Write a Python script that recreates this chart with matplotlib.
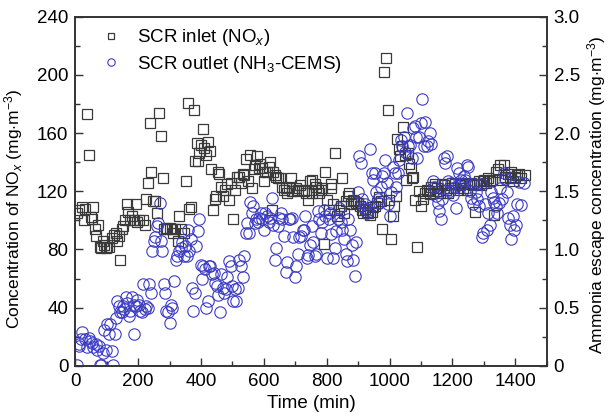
import matplotlib
matplotlib.use("Agg")
import matplotlib.pyplot as plt
from matplotlib.ticker import MultipleLocator, FuncFormatter

plt.rcParams['font.family'] = ['Liberation Sans', 'DejaVu Sans']
plt.rcParams['mathtext.fontset'] = 'custom'
plt.rcParams['mathtext.rm'] = 'Liberation Sans'
plt.rcParams['mathtext.it'] = 'Liberation Sans:italic'

# SCR inlet NOx (mg/m3) vs time (min)
inlet_t = [6, 12, 21, 27, 31, 37, 43, 49, 52, 55, 61, 65, 71, 77, 82, 87, 92, 97, 101, 108,
           116, 122, 128, 134, 138, 143, 147, 153, 159, 163, 168, 175, 180, 185, 192, 196, 204, 214, 220, 224,
           232, 238, 242, 248, 253, 259, 266, 271, 279, 281, 287, 293, 300, 306, 312, 318, 326, 331, 336, 346,
           351, 357, 363, 367, 377, 380, 388, 391, 395, 400, 406, 410, 416, 422, 427, 433, 438, 443, 449, 454,
           458, 465, 471, 477, 483, 489, 495, 501, 507, 513, 520, 526, 532, 538, 544, 550, 556, 562, 569, 571,
           578, 583, 588, 595, 600, 605, 611, 617, 621, 625, 630, 636, 639, 644, 652, 658, 664, 669, 675, 681,
           685, 691, 697, 703, 709, 715, 721, 727, 734, 740, 746, 752, 754, 762, 767, 771, 776, 782, 786, 792,
           796, 801, 807, 813, 815, 820, 828, 833, 838, 845, 850, 856, 862, 868, 872, 877, 883, 886, 893, 899,
           905, 911, 917, 923, 929, 933, 938, 943, 948, 954, 960, 966, 972, 976, 982, 990, 994, 999, 1005, 1011,
           1015, 1021, 1025, 1029, 1033, 1039, 1043, 1048, 1053, 1058, 1062, 1067, 1072, 1076, 1082, 1088, 1094, 1100, 1106, 1113,
           1119, 1125, 1128, 1133, 1139, 1146, 1150, 1155, 1162, 1168, 1174, 1180, 1186, 1192, 1198, 1204, 1210, 1217, 1223, 1229,
           1235, 1241, 1247, 1253, 1259, 1266, 1272, 1278, 1284, 1290, 1296, 1302, 1308, 1314, 1320, 1327, 1333, 1339, 1345, 1351,
           1357, 1363, 1369, 1376, 1382, 1388, 1394, 1400, 1406, 1412, 1418, 1430]
inlet_nox = [105, 107, 109, 100, 108, 173, 145, 102, 101, 109, 94, 89, 97, 82, 81, 86, 83, 81, 82, 82,
             88, 90, 91, 86, 89, 73, 94, 96, 100, 111, 106, 100, 103, 100, 111, 99, 100, 100, 97, 115,
             126, 167, 133, 113, 113, 105, 174, 158, 129, 94, 95, 94, 95, 94, 91, 94, 86, 103, 94, 91,
             127, 181, 108, 109, 176, 141, 153, 141, 146, 152, 163, 150, 145, 154, 148, 135, 107, 115, 117, 133,
             132, 123, 117, 121, 125, 114, 126, 101, 121, 130, 130, 126, 132, 131, 142, 127, 145, 122, 135, 138,
             144, 136, 139, 136, 127, 133, 133, 137, 140, 107, 133, 131, 130, 129, 129, 123, 121, 122, 119, 123,
             129, 120, 120, 122, 121, 124, 121, 120, 119, 114, 127, 128, 119, 125, 123, 121, 119, 121, 122, 84,
             133, 114, 107, 125, 122, 111, 146, 103, 107, 110, 129, 105, 113, 117, 119, 111, 114, 113, 112, 112,
             110, 107, 105, 108, 106, 105, 104, 106, 109, 110, 112, 116, 113, 94, 202, 212, 176, 114, 87, 103,
             110, 117, 156, 149, 144, 151, 164, 145, 128, 146, 139, 136, 129, 130, 114, 82, 120, 110, 115, 119,
             121, 120, 118, 123, 119, 125, 122, 120, 119, 125, 124, 121, 119, 122, 126, 122, 125, 121, 124, 126,
             122, 125, 121, 125, 126, 124, 106, 125, 127, 124, 127, 128, 126, 129, 127, 128, 104, 133, 135, 138,
             128, 138, 130, 132, 129, 133, 127, 130, 131, 132, 129, 131]

# SCR outlet NH3 escape (mg/m3) vs time (min)
outlet_t = [6, 10, 12, 18, 21, 31, 37, 43, 46, 52, 57, 65, 70, 75, 79, 83, 87, 92, 98, 101,
            106, 111, 116, 120, 125, 128, 134, 138, 143, 148, 153, 156, 160, 165, 170, 175, 180, 185, 188, 192,
            197, 202, 207, 212, 216, 221, 226, 231, 235, 240, 245, 249, 254, 259, 264, 268, 273, 277, 281, 285,
            290, 295, 300, 304, 309, 315, 320, 325, 330, 335, 340, 345, 350, 354, 358, 363, 368, 372, 375, 380,
            385, 389, 394, 399, 404, 407, 412, 417, 422, 425, 430, 436, 440, 445, 450, 455, 460, 465, 469, 474,
            479, 484, 489, 494, 499, 502, 507, 512, 517, 522, 527, 532, 537, 542, 547, 552, 556, 561, 566, 571,
            576, 581, 586, 591, 595, 600, 605, 610, 615, 620, 625, 630, 635, 639, 644, 649, 654, 659, 664, 669,
            674, 679, 683, 688, 693, 698, 703, 708, 713, 718, 723, 727, 732, 737, 742, 747, 752, 757, 762, 767,
            771, 776, 781, 786, 791, 796, 801, 806, 811, 815, 820, 825, 830, 835, 840, 845, 850, 855, 860, 864,
            869, 874, 879, 884, 889, 894, 899, 904, 908, 913, 918, 923, 928, 933, 938, 943, 948, 953, 957, 962,
            967, 972, 977, 982, 987, 992, 996, 1001, 1006, 1011, 1016, 1021, 1026, 1031, 1036, 1041, 1046, 1050, 1055, 1060,
            1065, 1070, 1075, 1080, 1085, 1089, 1094, 1099, 1104, 1109, 1114, 1119, 1124, 1128, 1133, 1138, 1143, 1148, 1153, 1158,
            1163, 1168, 1172, 1177, 1182, 1187, 1192, 1197, 1202, 1207, 1212, 1216, 1221, 1226, 1231, 1236, 1241, 1246, 1251, 1255,
            1260, 1265, 1270, 1275, 1280, 1285, 1290, 1295, 1299, 1304, 1309, 1314, 1319, 1324, 1329, 1333, 1338, 1343, 1348, 1353,
            1358, 1363, 1368, 1373, 1378, 1383, 1387, 1392, 1397, 1402, 1407, 1412, 1420, 1428]
outlet_nh3 = [0.01, 0.17, 0.19, 0.23, 0.29, 0.23, 0.16, 0.24, 0.21, 0.20, 0.16, 0.19, 0.14, 0.17, 0.01, 0.01, 0.11, 0.31, 0.14, 0.36,
              0.27, 0.36, 0.13, 0.01, 0.27, 0.41, 0.56, 0.51, 0.46, 0.46, 0.51, 0.49, 0.59, 0.54, 0.43, 0.47, 0.59, 0.52, 0.27, 0.51,
              0.57, 0.52, 0.47, 0.46, 0.70, 0.49, 0.51, 0.50, 0.70, 0.63, 0.99, 1.07, 1.11, 1.20, 1.23, 1.40, 1.07, 0.99, 0.70, 0.63,
              0.47, 0.46, 0.37, 0.52, 0.50, 0.73, 0.91, 0.94, 0.99, 1.01, 1.06, 0.94, 1.03, 0.94, 1.17, 0.99, 1.09, 0.67, 0.47, 0.63,
              1.03, 1.16, 1.26, 0.87, 0.75, 0.86, 0.83, 0.50, 0.56, 0.86, 0.86, 0.79, 0.80, 0.71, 0.69, 0.61, 0.46, 0.79, 0.67, 0.63,
              0.66, 0.76, 0.90, 0.86, 0.69, 0.56, 0.66, 0.56, 0.67, 0.91, 0.86, 0.76, 0.94, 1.14, 1.23, 1.14, 1.41, 1.31, 1.37, 1.23,
              1.26, 1.24, 1.27, 1.31, 1.26, 1.17, 1.31, 1.29, 1.24, 1.27, 1.44, 1.21, 0.91, 1.01, 1.20, 1.27, 1.31, 1.26, 1.12, 0.81,
              0.89, 1.26, 1.26, 1.27, 1.11, 0.76, 0.86, 0.96, 1.11, 1.12, 1.17, 1.17, 1.29, 0.93, 0.95, 1.04, 1.20, 1.06, 0.94, 0.96,
              1.33, 1.26, 1.14, 1.24, 1.34, 1.29, 0.93, 1.26, 1.31, 1.13, 0.93, 1.01, 1.16, 1.26, 1.36, 1.24, 1.17, 1.09, 0.96, 0.90,
              1.26, 1.17, 1.04, 0.91, 0.77, 1.06, 1.49, 1.80, 1.74, 1.43, 1.36, 1.39, 1.31, 1.34, 1.86, 1.66, 1.60, 1.66, 1.49, 1.43,
              1.40, 1.54, 1.63, 1.66, 1.77, 1.57, 1.39, 1.29, 1.49, 1.71, 1.66, 1.54, 1.66, 1.77, 1.94, 1.89, 1.97, 1.84, 2.17, 1.89,
              1.90, 1.79, 2.04, 2.06, 1.97, 1.79, 1.97, 2.09, 2.29, 1.89, 2.10, 1.89, 1.93, 2.00, 1.91, 1.59, 1.54, 1.46, 1.40, 1.33,
              1.26, 1.43, 1.79, 1.74, 1.80, 1.59, 1.50, 1.57, 1.47, 1.54, 1.36, 1.70, 1.66, 1.60, 1.56, 1.63, 1.60, 1.73, 1.71, 1.50,
              1.44, 1.39, 1.56, 1.49, 1.43, 1.37, 1.56, 1.11, 1.14, 1.39, 1.17, 1.31, 1.21, 1.49, 1.44, 1.41, 1.37, 1.31, 1.40, 1.53,
              1.43, 1.66, 1.61, 1.49, 1.27, 1.21, 1.09, 1.29, 1.17, 1.21, 1.39, 1.58, 1.38, 1.57]

fig = plt.figure(figsize=(6.08, 4.20), dpi=100)
ax = fig.add_axes([0.124, 0.129, 0.775, 0.831])
ax2 = ax.twinx()

sq, = ax.plot(inlet_t, inlet_nox, linestyle='none', marker='s', markersize=6.8,
              markerfacecolor='none', markeredgecolor='#3a3a3a', markeredgewidth=0.9,
              label='SCR inlet (NO$_{\\mathit{x}}$)')
ci, = ax2.plot(outlet_t, outlet_nh3, linestyle='none', marker='o', markersize=8.2,
               markerfacecolor='none', markeredgecolor='#3c3cc4', markeredgewidth=0.8,
               label='SCR outlet (NH$_3$-CEMS)')

ax.set_xlim(0, 1500)
ax.set_ylim(0, 240)
ax2.set_ylim(0, 3.0)

ax.xaxis.set_major_locator(MultipleLocator(200))
ax.xaxis.set_minor_locator(MultipleLocator(100))
ax.set_xticks([0, 200, 400, 600, 800, 1000, 1200, 1400])
ax.yaxis.set_major_locator(MultipleLocator(40))
ax.yaxis.set_minor_locator(MultipleLocator(20))
ax2.yaxis.set_major_locator(MultipleLocator(0.5))
ax2.yaxis.set_minor_locator(MultipleLocator(0.25))
ax2.yaxis.set_major_formatter(FuncFormatter(lambda v, p: '0' if abs(v) < 1e-9 else f'{v:.1f}'))

for a in (ax, ax2):
    a.tick_params(which='both', direction='in', labelsize=13.5, width=1.0, color='#333333')
    a.tick_params(which='major', length=6)
    a.tick_params(which='minor', length=3.5)
    for s in a.spines.values():
        s.set_linewidth(1.2)
        s.set_color('#333333')
ax.tick_params(axis='x', which='both', top=False)
ax.tick_params(axis='y', which='both', right=False)
ax2.tick_params(axis='y', which='both', left=False, right=True)
ax.tick_params(axis='x', pad=5)
ax.tick_params(axis='y', pad=5)
ax2.tick_params(axis='y', pad=5)

ax.set_xlabel('Time (min)', fontsize=13.5, labelpad=4)
ax.set_ylabel('Concentration of NO$_{\\mathit{x}}$ (mg$\\cdot$m$^{-3}$)', fontsize=12.5)
ax.yaxis.set_label_coords(-0.108, 0.45)
ax2.set_ylabel('Ammonia escape concentration (mg$\\cdot$m$^{-3}$)', fontsize=12.5)
ax2.yaxis.set_label_coords(1.082, 0.49)

leg = ax2.legend(handles=[sq, ci], loc='upper left', bbox_to_anchor=(0.02, 1.018), frameon=False,
                 fontsize=13.5, markerscale=0.65, handlelength=1.0, handletextpad=0.9,
                 labelspacing=0.3)

fig.savefig('out.png', dpi=100)
